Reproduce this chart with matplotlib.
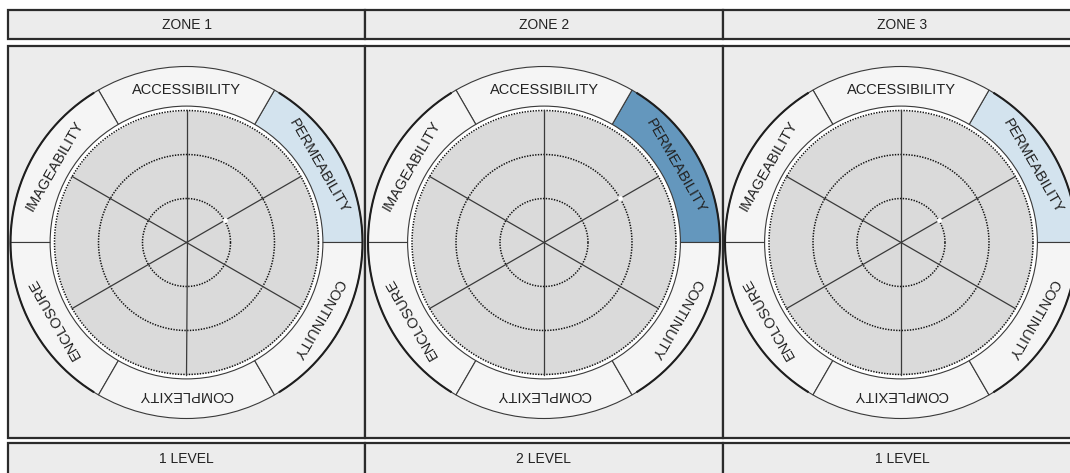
import numpy as np
import matplotlib
matplotlib.use("Agg")
import matplotlib.pyplot as plt
from matplotlib.patches import Rectangle

plt.rcParams['font.family'] = ['Liberation Sans', 'DejaVu Sans']

# ---- data ----
zones = ["ZONE 1", "ZONE 2", "ZONE 3"]
levels = ["1 LEVEL", "2 LEVEL", "1 LEVEL"]
categories = ["PERMEABILITY", "ACCESSIBILITY", "IMAGEABILITY",
              "ENCLOSURE", "COMPLEXITY", "CONTINUITY"]
category_angles = [30, 90, 150, 210, 270, 330]   # sector centres (deg)
highlight_category = "PERMEABILITY"
zone_values = [1, 2, 1]                            # value on highlighted axis
level_colors = {1: "#d3e3ee", 2: "#6497bd"}
ring_levels = [1, 2, 3]

# ---- figure ----
W, H = 1070, 473
fig = plt.figure(figsize=(W / 100, H / 100), dpi=100, facecolor="white")
bg = fig.add_axes([0, 0, 1, 1])
bg.set_xlim(0, W)
bg.set_ylim(H, 0)
bg.axis("off")

edges = [8, 365, 723, 1082]
box_fc = "#ececec"
box_ec = "#2b2b2b"
for i, z in enumerate(zones):
    x0, x1 = edges[i], edges[i + 1]
    bg.add_patch(Rectangle((x0, 10), x1 - x0, 29, fc=box_fc, ec=box_ec, lw=1.6))
    bg.add_patch(Rectangle((x0, 46), x1 - x0, 392, fc=box_fc, ec=box_ec, lw=1.6))
    bg.add_patch(Rectangle((x0, 443), x1 - x0, 40, fc=box_fc, ec=box_ec, lw=1.6,
                           clip_on=False))
    bg.text((x0 + x1) / 2, 25, z, ha="center", va="center", fontsize=10, color="#222")
    bg.text((x0 + x1) / 2, 459, levels[i], ha="center", va="center", fontsize=10,
            color="#222")

R = 176.0          # outer radius in px -> r = 4
cy = 242.5
centers_x = [186.5, 544, 901]
theta = np.linspace(0, 2 * np.pi, 721)
for i, z in enumerate(zones):
    cx = centers_x[i]
    ax = fig.add_axes([(cx - R) / W, (H - cy - R) / H, 2 * R / W, 2 * R / H],
                      projection="polar")
    ax.set_ylim(0, 4)
    ax.axis("off")
    # grey disc
    ax.fill_between(theta, 0, 3, color="#dadada", lw=0, zorder=1)
    # white band
    ax.fill_between(theta, 3, 3.1, color="white", lw=0, zorder=1)
    # label ring sectors
    cols = []
    for c in categories:
        if c == highlight_category:
            cols.append(level_colors[zone_values[i]])
        else:
            cols.append("#f5f5f5")
    bars = ax.bar(np.deg2rad(category_angles), 0.9, width=np.pi / 3, bottom=3.1,
                  color=cols, edgecolor="#3a3a3a", lw=0.8, zorder=2)
    for b in bars:
        b.set_clip_on(False)
    # thicker outer arcs on the sides
    for a0, a1 in [(-58, 58), (122, 238)]:
        t = np.deg2rad(np.linspace(a0, a1, 200))
        ax.plot(t, np.full_like(t, 4.0), color="#1e1e1e", lw=1.5, zorder=3,
                clip_on=False)
    # dotted rings
    for r in ring_levels:
        ax.plot(theta, np.full_like(theta, r), color="#111111", lw=1.1,
                ls=(0, (0.9, 0.9)), zorder=4)
    # spokes
    for a in category_angles:
        ax.plot([np.deg2rad(a)] * 2, [0, 3], color="#3a3a3a", lw=0.9, zorder=4)
    # value marker
    ha = np.deg2rad(category_angles[categories.index(highlight_category)])
    ax.plot([ha], [zone_values[i]], marker="o", ms=3.5, color="white",
            mec="none", zorder=5)
    # labels
    for c, a in zip(categories, category_angles):
        ax.text(np.deg2rad(a), 3.47, c, rotation=a - 90, rotation_mode="anchor",
                ha="center", va="center", fontsize=10.5, color="#222", zorder=6)

fig.savefig("out.png", dpi=100, facecolor="white")
